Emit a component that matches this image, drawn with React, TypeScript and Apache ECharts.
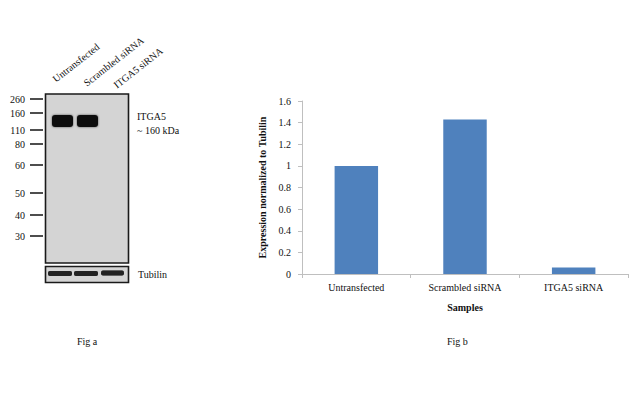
import React, { useEffect, useRef } from "react";
import * as echarts from "echarts";

const categories = ["Untransfected", "Scrambled siRNA", "ITGA5 siRNA"];
const values = [1.0, 1.43, 0.06];
const yMin = 0;
const yMax = 1.6;
const yInterval = 0.2;
const markerLabels = ["260", "160", "110", "80", "60", "50", "40", "30"];
const laneLabels = ["Untransfected", "Scrambled siRNA", "ITGA5 siRNA"];

// layout for the blot drawing
const markerY = [99, 113, 130, 144, 165, 193, 215, 236];
const laneStart = [
  [57, 84],
  [88, 88],
  [118, 90],
];
const itgaBands = [
  [52, 115, 21, 12],
  [77, 115, 21, 12],
];
const tubBands = [
  [48, 271, 24, 5],
  [74, 271, 24, 5],
  [101, 270.5, 23, 5],
];

const FONT = "Liberation Serif";

export default function App() {
  const ref = useRef<HTMLDivElement>(null);
  useEffect(() => {
    if (!ref.current) return;
    const chart = echarts.init(ref.current, null, { renderer: "svg" });
    const graphic: any[] = [];
    graphic.push({
      type: "rect",
      shape: { x: 45.5, y: 94, width: 83, height: 169 },
      style: { fill: "#d4d4d4", stroke: "#1a1a1a", lineWidth: 1.6 },
    });
    graphic.push({
      type: "rect",
      shape: { x: 45.5, y: 266.5, width: 83, height: 16 },
      style: { fill: "#d4d4d4", stroke: "#1a1a1a", lineWidth: 1.6 },
    });
    itgaBands.forEach(([x, y, w, h]) => {
      graphic.push({
        type: "rect",
        shape: { x, y, width: w, height: h, r: 3 },
        style: { fill: "#0d0d0d", shadowBlur: 2, shadowColor: "rgba(0,0,0,0.6)" },
      });
    });
    tubBands.forEach(([x, y, w, h]) => {
      graphic.push({
        type: "rect",
        shape: { x, y, width: w, height: h, r: 2 },
        style: { fill: "#222", shadowBlur: 1.5, shadowColor: "rgba(0,0,0,0.5)" },
      });
    });
    const txt = (t: string, x: number, y: number, align: string, vAlign: string, rotation = 0) => ({
      type: "text",
      x,
      y,
      rotation,
      style: {
        text: t,
        fontFamily: FONT,
        fontSize: 10,
        fill: "#111",
        align,
        verticalAlign: vAlign,
      },
    });
    markerLabels.forEach((lab, i) => {
      graphic.push(txt(lab, 25, markerY[i], "right", "middle"));
      graphic.push({
        type: "line",
        shape: { x1: 30, y1: markerY[i], x2: 43, y2: markerY[i] },
        style: { stroke: "#222", lineWidth: 1.6 },
      });
    });
    laneLabels.forEach((lab, i) => {
      graphic.push(txt(lab, laneStart[i][0], laneStart[i][1], "left", "bottom", (38 * Math.PI) / 180));
    });
    const texts: [string, number, number][] = [
      ["ITGA5", 137, 116],
      ["~ 160 kDa", 137, 130],
      ["Tubilin", 138, 274],
      ["Fig a", 77, 341],
      ["Fig b", 447, 341],
    ];
    texts.forEach(([t, x, y]) => graphic.push(txt(t, x, y, "left", "middle")));

    chart.setOption({
      animation: false,
      backgroundColor: "#ffffff",
      textStyle: { fontFamily: FONT },
      grid: { left: 302, right: 13, top: 101, bottom: 145 },
      xAxis: {
        type: "category",
        data: categories,
        name: "Samples",
        nameLocation: "middle",
        nameGap: 28,
        nameTextStyle: { fontFamily: FONT, fontSize: 10, fontWeight: "bold", color: "#111" },
        axisLine: { lineStyle: { color: "#bfbfbf", width: 1 } },
        axisTick: { show: true, length: 4, lineStyle: { color: "#bfbfbf" } },
        axisLabel: { fontFamily: FONT, fontSize: 10, color: "#111", margin: 8, interval: 0 },
        splitLine: { show: false },
      },
      yAxis: {
        type: "value",
        min: yMin,
        max: yMax,
        interval: yInterval,
        name: "Expression normalized to Tubilin",
        nameLocation: "middle",
        nameGap: 35,
        nameTextStyle: { fontFamily: FONT, fontSize: 10, fontWeight: "bold", color: "#111" },
        axisLine: { show: true, lineStyle: { color: "#bfbfbf", width: 1 } },
        axisTick: { show: true, length: 4, lineStyle: { color: "#bfbfbf" } },
        axisLabel: {
          fontFamily: FONT,
          fontSize: 10,
          color: "#111",
          margin: 11,
          formatter: (v: number) => String(Math.round(v * 10) / 10),
        },
        splitLine: { show: false },
      },
      series: [
        {
          type: "bar",
          data: values,
          barWidth: "40%",
          itemStyle: { color: "#4f81bd" },
        },
      ],
      graphic,
    });
    return () => chart.dispose();
  }, []);
  return (
    <div
      ref={ref}
      style={{ position: "fixed", left: 0, top: 0, width: 641, height: 419, background: "#fff" }}
    />
  );
}
